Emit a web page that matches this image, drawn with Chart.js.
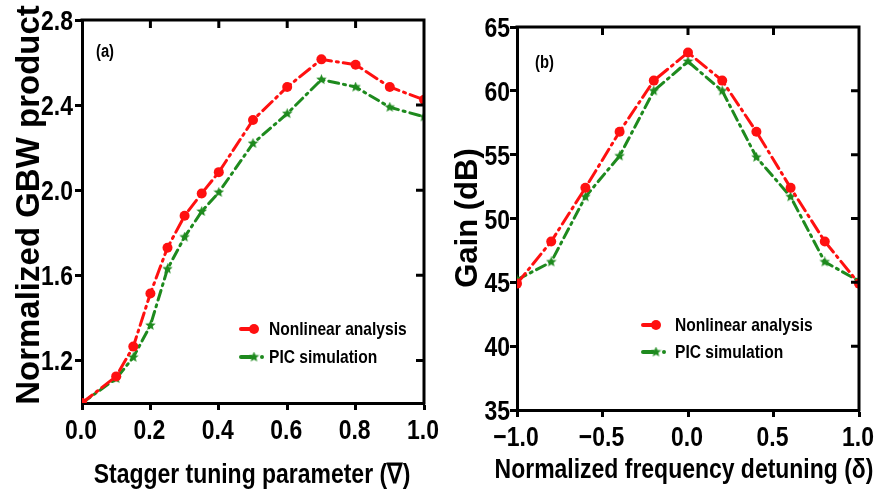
<!DOCTYPE html>
<html>
<head>
<meta charset="utf-8">
<script src="https://cdn.jsdelivr.net/npm/chart.js@4.4.1/dist/chart.umd.min.js"></script>
<style>
  html, body { margin: 0; padding: 0; background: #fff; }
  #wrap { position: relative; width: 883px; height: 493px; overflow: hidden; }
  .pane { position: absolute; top: 0; }
</style>
</head>
<body>
<div id="wrap">
  <div class="pane" style="left:0;width:440px;height:493px"><canvas id="cA" width="440" height="493"></canvas></div>
  <div class="pane" style="left:440px;width:443px;height:493px"><canvas id="cB" width="443" height="493"></canvas></div>
</div>
<script>
// ---- Panel (a) data ----
const staggerX = [0, 0.1, 0.15, 0.2, 0.25, 0.3, 0.35, 0.4, 0.5, 0.6, 0.7, 0.8, 0.9, 1.0];
const gbwNonlinear = [1.0, 1.125, 1.265, 1.515, 1.73, 1.88, 1.985, 2.085, 2.33, 2.485, 2.615, 2.59, 2.485, 2.425];
const gbwPIC = [1.0, 1.115, 1.215, 1.365, 1.63, 1.78, 1.9, 1.99, 2.22, 2.36, 2.52, 2.485, 2.39, 2.345];
const xTicksA = [0, 0.2, 0.4, 0.6, 0.8, 1.0];
const yTicksA = [1.2, 1.6, 2.0, 2.4, 2.8];

// ---- Panel (b) data ----
const detuningX = [-1, -0.8, -0.6, -0.4, -0.2, 0, 0.2, 0.4, 0.6, 0.8, 1];
const gainNonlinear = [44.9, 48.2, 52.4, 56.8, 60.8, 63.0, 60.8, 56.8, 52.4, 48.2, 44.9];
const gainPIC = [45.2, 46.6, 51.7, 54.9, 60.0, 62.3, 60.0, 54.8, 51.7, 46.6, 45.1];
const xTicksB = [-1, -0.5, 0, 0.5, 1];
const yTicksB = [35, 40, 45, 50, 55, 60, 65];

const seriesNames = ['Nonlinear analysis', 'PIC simulation'];
const RED = '#ff1010';
const GREEN = '#1e8a1e';
const FONT = "'Liberation Sans', Arial, sans-serif";
const NARROW_FACTOR = 0.82;

function makeStar(size, color) {
  const c = document.createElement('canvas');
  c.width = size; c.height = size;
  const g = c.getContext('2d');
  const cx = size / 2, cy = size / 2, R = size / 2, r = R * 0.45;
  g.beginPath();
  for (let i = 0; i < 10; i++) {
    const rad = i % 2 === 0 ? R : r;
    const a = -Math.PI / 2 + i * Math.PI / 5;
    const px = cx + rad * Math.cos(a), py = cy + rad * Math.sin(a);
    if (i === 0) g.moveTo(px, py); else g.lineTo(px, py);
  }
  g.closePath();
  g.fillStyle = color;
  g.fill();
  return c;
}
const starImg = makeStar(11, GREEN);

function pts(xs, ys) { return xs.map((x, i) => ({ x: x, y: ys[i] })); }

// condensed text (narrow-font look) drawn through canvas fillText with maxWidth
function narrowText(ctx, text, x, y, factor) {
  const w = ctx.measureText(text).width * (factor || NARROW_FACTOR);
  ctx.fillText(text, x, y, w);
}

function makeFramePlugin(cfg) {
  return {
    id: 'frame_' + cfg.id,
    afterDraw(chart) {
      const ctx = chart.ctx;
      const a = chart.chartArea;
      const xs = chart.scales.x, ys = chart.scales.y;
      ctx.save();
      // top + right frame with inward ticks
      ctx.strokeStyle = '#000';
      ctx.lineWidth = 3;
      ctx.lineCap = 'square';
      ctx.beginPath();
      ctx.moveTo(a.left, a.top); ctx.lineTo(a.right, a.top); ctx.lineTo(a.right, a.bottom);
      ctx.stroke();
      ctx.lineCap = 'butt';
      ctx.beginPath();
      cfg.topTicks.forEach(v => {
        const px = xs.getPixelForValue(v);
        ctx.moveTo(px, a.top); ctx.lineTo(px, a.top + 8);
      });
      cfg.rightTicks.forEach(v => {
        const py = ys.getPixelForValue(v);
        ctx.moveTo(a.right, py); ctx.lineTo(a.right - 8, py);
      });
      ctx.stroke();

      ctx.fillStyle = '#000';
      // x tick labels
      ctx.font = 'bold 28px ' + FONT;
      ctx.textAlign = 'center';
      ctx.textBaseline = 'alphabetic';
      xs.ticks.forEach(t => {
        narrowText(ctx, cfg.xFmt(t.value), xs.getPixelForValue(t.value) - 1, cfg.xTickBase);
      });
      // y tick labels
      ctx.textAlign = 'right';
      ys.ticks.forEach(t => {
        narrowText(ctx, cfg.yFmt(t.value), cfg.yTickRight, ys.getPixelForValue(t.value) + 10);
      });
      // x title
      ctx.textAlign = 'center';
      narrowText(ctx, cfg.xTitle, cfg.xTitleX, cfg.xTitleBase);
      // y title (rotated, regular width)
      ctx.save();
      ctx.translate(cfg.yTitleBase, cfg.yTitleY);
      ctx.rotate(-Math.PI / 2);
      ctx.font = 'bold ' + cfg.yTitleSize + 'px ' + FONT;
      ctx.textAlign = 'center';
      ctx.fillText(cfg.yTitle, 0, 0);
      ctx.restore();

      // panel label
      ctx.font = 'bold 18px ' + FONT;
      ctx.textAlign = 'left';
      ctx.textBaseline = 'middle';
      narrowText(ctx, cfg.label, cfg.labelX, cfg.labelY);

      // legend
      const L = cfg.legend;
      ctx.font = 'bold 19px ' + FONT;
      ctx.strokeStyle = RED; ctx.lineWidth = 4; ctx.lineCap = 'round';
      ctx.beginPath(); ctx.moveTo(L.x, L.y1); ctx.lineTo(L.x + 14, L.y1); ctx.stroke();
      ctx.fillStyle = RED;
      ctx.beginPath(); ctx.arc(L.x + 13, L.y1, 5, 0, Math.PI * 2); ctx.fill();
      ctx.fillStyle = '#000';
      narrowText(ctx, seriesNames[0], L.tx, L.y1 + 1);
      ctx.strokeStyle = GREEN; ctx.lineWidth = 4;
      ctx.beginPath(); ctx.moveTo(L.x, L.y2); ctx.lineTo(L.x + 10, L.y2); ctx.stroke();
      ctx.drawImage(starImg, L.x + 13 - 5.5, L.y2 - 5.5);
      ctx.fillStyle = GREEN;
      ctx.beginPath(); ctx.arc(L.x + 21, L.y2, 2, 0, Math.PI * 2); ctx.fill();
      ctx.fillStyle = '#000';
      narrowText(ctx, seriesNames[1], L.tx, L.y2 + 1);
      ctx.restore();
    }
  };
}

function makeChart(canvasId, cfg) {
  return new Chart(document.getElementById(canvasId), {
    type: 'line',
    data: {
      datasets: [
        {
          label: seriesNames[0],
          data: pts(cfg.xs, cfg.red),
          borderColor: RED, backgroundColor: RED,
          borderWidth: 3, borderDash: [13, 5, 2, 5], borderCapStyle: 'round',
          pointStyle: 'circle', pointRadius: 5, pointBorderWidth: 0,
          pointBackgroundColor: RED, tension: 0
        },
        {
          label: seriesNames[1],
          data: pts(cfg.xs, cfg.green),
          borderColor: GREEN, backgroundColor: GREEN,
          borderWidth: 3, borderDash: [10, 5, 2, 5], borderCapStyle: 'round',
          pointStyle: starImg, pointRadius: 5, tension: 0
        }
      ]
    },
    options: {
      responsive: false,
      animation: false,
      devicePixelRatio: 1,
      layout: { padding: cfg.padding },
      plugins: { legend: { display: false }, tooltip: { enabled: false } },
      scales: {
        x: {
          type: 'linear', min: cfg.xMin, max: cfg.xMax,
          afterBuildTicks: s => { s.ticks = cfg.xTicks.map(v => ({ value: v })); },
          afterFit: s => { s.height = cfg.xAxisH; },
          ticks: { display: false, autoSkip: false },
          grid: { drawOnChartArea: false, drawTicks: true, tickLength: 7, tickWidth: 3, tickColor: '#000' },
          border: { display: true, width: 3, color: '#000' },
          title: { display: false }
        },
        y: {
          type: 'linear', min: cfg.yMin, max: cfg.yMax,
          afterBuildTicks: s => { s.ticks = cfg.yTicks.map(v => ({ value: v })); },
          afterFit: s => { s.width = cfg.yAxisW; },
          ticks: { display: false, autoSkip: false },
          grid: { drawOnChartArea: false, drawTicks: true, tickLength: 7, tickWidth: 3, tickColor: '#000' },
          border: { display: true, width: 3, color: '#000' },
          title: { display: false }
        }
      }
    },
    plugins: [makeFramePlugin(cfg)]
  });
}

makeChart('cA', {
  id: 'a',
  xs: staggerX, red: gbwNonlinear, green: gbwPIC,
  xMin: 0, xMax: 1, yMin: 1.0, yMax: 2.8,
  xTicks: xTicksA, yTicks: yTicksA,
  xFmt: v => Number(v).toFixed(1),
  yFmt: v => Number(v).toFixed(1),
  padding: { top: 20, right: 16, left: 0, bottom: 0 },
  xAxisH: 90, yAxisW: 82,
  xTickBase: 439, yTickRight: 73,
  xTitle: 'Stagger tuning parameter (\u2207)', xTitleX: 252, xTitleBase: 483,
  yTitle: 'Normalized GBW product', yTitleSize: 33, yTitleBase: 39, yTitleY: 205,
  topTicks: [0.2, 0.4, 0.6, 0.8], rightTicks: [1.2, 1.6, 2.0, 2.4],
  label: '(a)', labelX: 96, labelY: 52,
  legend: { x: 241, y1: 329, y2: 357, tx: 269 }
});

makeChart('cB', {
  id: 'b',
  xs: detuningX, red: gainNonlinear, green: gainPIC,
  xMin: -1, xMax: 1, yMin: 35, yMax: 65,
  xTicks: xTicksB, yTicks: yTicksB,
  xFmt: v => (v < 0 ? '\u2212' + Math.abs(v).toFixed(1) : Number(v).toFixed(1)),
  yFmt: v => String(v),
  padding: { top: 27, right: 24, left: 0, bottom: 0 },
  xAxisH: 83, yAxisW: 77,
  xTickBase: 446, yTickRight: 70,
  xTitle: 'Normalized frequency detuning (\u03b4)', xTitleX: 244, xTitleBase: 478,
  yTitle: 'Gain (dB)', yTitleSize: 31, yTitleBase: 37, yTitleY: 218,
  topTicks: [-0.5, 0, 0.5], rightTicks: [40, 45, 50, 55, 60],
  label: '(b)', labelX: 95, labelY: 63,
  legend: { x: 203, y1: 325, y2: 352, tx: 235 }
});
</script>
</body>
</html>
